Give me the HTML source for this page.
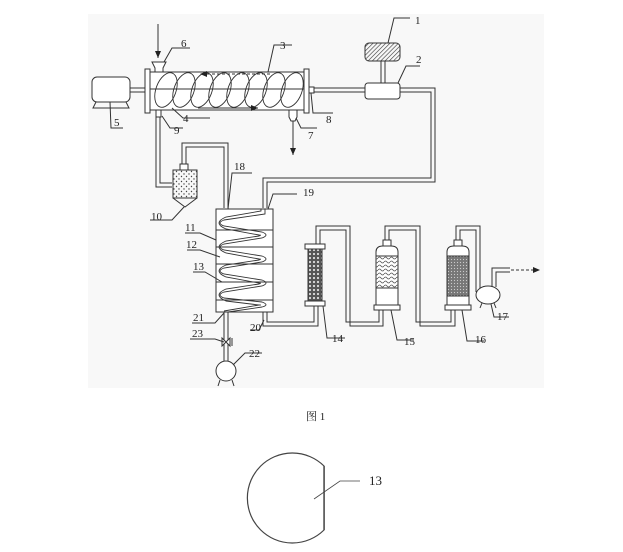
<!DOCTYPE html>
<html><head><meta charset="utf-8"><style>
html,body{margin:0;padding:0;background:#fff;}
svg{display:block;font-family:"Liberation Serif","Noto Serif CJK SC",serif;}
</style></head><body>
<svg width="623" height="552" viewBox="0 0 623 552" xmlns="http://www.w3.org/2000/svg">
<defs>
<pattern id="hatch" width="3" height="3" patternUnits="userSpaceOnUse" patternTransform="rotate(45)"><line x1="0" y1="0" x2="0" y2="3" stroke="#333" stroke-width="1.2"/></pattern>
<pattern id="dots" width="5" height="5" patternUnits="userSpaceOnUse"><circle cx="1.5" cy="1.5" r="0.7" fill="#444"/><circle cx="4" cy="4" r="0.7" fill="#444"/></pattern>
<pattern id="dark" width="4" height="4" patternUnits="userSpaceOnUse"><rect width="4" height="4" fill="#555"/><circle cx="2" cy="2" r="1.1" fill="#ddd"/></pattern>
<pattern id="wave" width="6" height="4" patternUnits="userSpaceOnUse"><path d="M0 2 Q1.5 0 3 2 T6 2" fill="none" stroke="#555" stroke-width="0.8"/></pattern>
<pattern id="dense" width="3" height="3" patternUnits="userSpaceOnUse"><rect width="3" height="3" fill="#777"/><circle cx="1.5" cy="1.5" r="0.6" fill="#ccc"/></pattern>
<marker id="ar" markerWidth="8" markerHeight="8" refX="7" refY="4" orient="auto"><path d="M0 1 L7 4 L0 7 Z" fill="#222"/></marker>
</defs>
<rect x="88" y="14" width="456" height="374" fill="#f8f8f8"/>
<g fill="none" stroke="#333" stroke-width="1">
<rect x="92" y="77" width="38" height="25" rx="5" fill="#fff"/>
<path d="M96 102 L93 108 L129 108 L126 102"/>
<line x1="130" y1="88" x2="145" y2="88"/><line x1="130" y1="92" x2="145" y2="92"/>
<rect x="150" y="72" width="154" height="38" fill="#fff"/>
<rect x="145" y="69" width="5" height="44" fill="#fff"/>
<rect x="304" y="69" width="5" height="44" fill="#fff"/>
<line x1="150" y1="89" x2="304" y2="89"/>
<g stroke-width="0.9">
<ellipse cx="166" cy="90" rx="10" ry="18" transform="rotate(20 166 90)"/>
<ellipse cx="184" cy="90" rx="10" ry="18" transform="rotate(20 184 90)"/>
<ellipse cx="202" cy="90" rx="10" ry="18" transform="rotate(20 202 90)"/>
<ellipse cx="220" cy="90" rx="10" ry="18" transform="rotate(20 220 90)"/>
<ellipse cx="238" cy="90" rx="10" ry="18" transform="rotate(20 238 90)"/>
<ellipse cx="256" cy="90" rx="10" ry="18" transform="rotate(20 256 90)"/>
<ellipse cx="274" cy="90" rx="10" ry="18" transform="rotate(20 274 90)"/>
<ellipse cx="292" cy="90" rx="10" ry="18" transform="rotate(20 292 90)"/>
</g>
<line x1="270" y1="74" x2="200" y2="74" stroke-dasharray="3,2" marker-end="url(#ar)"/>
<line x1="198" y1="108" x2="258" y2="108" marker-end="url(#ar)"/>
<path d="M152 62 L166 62 L163 68 L163 72 L155 72 L155 68 Z" fill="#fff"/>
<line x1="158" y1="24" x2="158" y2="58" marker-end="url(#ar)"/>
<path d="M289 110 L297 110 L297 117 L295 121 L291 121 L289 117 Z" fill="#fff"/>
<line x1="293" y1="121" x2="293" y2="155" marker-end="url(#ar)"/>
<rect x="309" y="87" width="5" height="6" fill="#fff"/>
<rect x="365" y="43" width="35" height="18" rx="4" fill="url(#hatch)"/>
<line x1="381" y1="61" x2="381" y2="83"/><line x1="385" y1="61" x2="385" y2="83"/>
<rect x="365" y="83" width="35" height="16" rx="3" fill="#fff"/>
<line x1="314" y1="88" x2="365" y2="88"/><line x1="314" y1="92" x2="365" y2="92"/>
<path d="M400 88 L435 88 L435 182 L267 182 L267 208"/>
<path d="M400 92 L431 92 L431 178 L263 178 L263 208"/>
<rect x="156" y="110" width="5" height="7" fill="#fff"/>
<path d="M156 117 L156 187 L172 187"/><path d="M160 117 L160 183 L172 183"/>
<rect x="180" y="164" width="8" height="6" fill="#fff"/>
<rect x="173" y="170" width="24" height="28" fill="url(#dots)"/>
<path d="M173 198 L185 207 L197 198"/>
<path d="M182 164 L182 143 L228 143 L228 208"/><path d="M186 164 L186 147 L224 147 L224 208"/>
<rect x="216" y="209" width="57" height="103" fill="#fff"/>
<line x1="216" y1="230" x2="273" y2="230"/><line x1="216" y1="247" x2="273" y2="247"/>
<line x1="216" y1="264" x2="273" y2="264"/><line x1="216" y1="282" x2="273" y2="282"/><line x1="216" y1="300" x2="273" y2="300"/>
<path d="M265 209 L265 214 L224 220 Q216 223 224 226 L262 232 Q270 235 262 238 L224 244 Q216 247 224 250 L262 256 Q270 259 262 262 L224 268 Q216 271 224 274 L262 280 Q270 283 262 286 L224 292 Q216 295 224 298 L262 302 Q270 305 262 307 L228 312" stroke-width="0.9"/>
<path d="M261 209 L261 211 L226 217 Q212 223 226 229 L259 235 Q262 235 259 236 L226 241 Q212 247 226 253 L259 259 Q262 259 259 260 L226 265 Q212 271 226 277 L259 283 Q262 283 259 284 L226 289 Q212 295 226 301 L259 305 Q262 305 259 305 L224 311" stroke-width="0.9"/>
<line x1="224" y1="312" x2="224" y2="362"/><line x1="228" y1="312" x2="228" y2="362"/>
<path d="M222 338 L230 346 L230 338 L222 346 Z" fill="#fff"/><line x1="232" y1="338" x2="232" y2="346"/>
<circle cx="226" cy="371" r="10" fill="#fff"/>
<line x1="220" y1="380" x2="218" y2="386"/><line x1="232" y1="380" x2="234" y2="386"/>
<path d="M263 312 L263 326 L318 326 L318 306"/><path d="M267 312 L267 322 L314 322 L314 306"/>
<rect x="305" y="244" width="20" height="5" fill="#fff"/>
<rect x="308" y="249" width="14" height="52" fill="url(#dark)"/>
<rect x="305" y="301" width="20" height="5" fill="#fff"/>
<path d="M316 244 L316 226 L350 226 L350 326 L383 326 L383 310"/>
<path d="M320 244 L320 230 L346 230 L346 322 L379 322 L379 310"/>
<rect x="383" y="240" width="8" height="6" fill="#fff"/>
<path d="M376 305 L376 252 Q376 246 383 246 L391 246 Q398 246 398 252 L398 305 Z" fill="#fff"/>
<rect x="376" y="256" width="22" height="32" fill="url(#wave)"/>
<rect x="374" y="305" width="26" height="5" fill="#fff"/>
<path d="M385 240 L385 226 L420 226 L420 326 L455 326 L455 310"/>
<path d="M389 240 L389 230 L416 230 L416 322 L451 322 L451 310"/>
<rect x="454" y="240" width="8" height="6" fill="#fff"/>
<path d="M447 305 L447 252 Q447 246 454 246 L462 246 Q469 246 469 252 L469 305 Z" fill="#fff"/>
<rect x="447" y="256" width="22" height="40" fill="url(#dense)"/>
<rect x="445" y="305" width="26" height="5" fill="#fff"/>
<path d="M456 240 L456 226 L480 226 L480 292"/><path d="M460 240 L460 230 L476 230 L476 292"/>
<ellipse cx="488" cy="295" rx="12" ry="9" fill="#fff"/>
<line x1="482" y1="303" x2="480" y2="308"/><line x1="494" y1="303" x2="496" y2="308"/>
<path d="M492 287 L492 268 L510 268"/><path d="M496 287 L496 272 L510 272"/>
<line x1="511" y1="270" x2="540" y2="270" stroke-dasharray="3,2" marker-end="url(#ar)"/>
<path d="M388 43 L394 18 L410 18"/>
<path d="M398 83 L406 66 L420 66"/>
<path d="M268 72 L274 45 L292 45"/>
<path d="M164 62 L172 48 L190 48"/>
<path d="M172 108 L183 118 L210 118"/>
<path d="M110 102 L111 128 L123 128"/>
<path d="M296 118 L301 128 L317 128"/>
<path d="M311 93 L313 113 L333 113"/>
<path d="M162 116 L170 128 L183 128"/>
<path d="M184 207 L172 220 L150 220"/>
<path d="M228 209 L232 173 L252 173"/>
<path d="M268 209 L273 194 L297 194"/>
<path d="M216 240 L200 233 L185 233"/>
<path d="M220 257 L200 250 L187 250"/>
<path d="M222 282 L205 272 L193 272"/>
<path d="M224 313 L215 323 L192 323"/>
<path d="M264 320 L259 330 L250 330"/>
<path d="M224 342 L215 339 L190 339"/>
<path d="M233 365 L245 353 L262 353"/>
<path d="M323 306 L327 338 L345 338"/>
<path d="M391 310 L397 340 L414 340"/>
<path d="M462 310 L467 341 L484 341"/>
<path d="M491 304 L494 317 L509 317"/>
</g>
<g font-size="11" fill="#222">
<text x="415" y="24">1</text><text x="416" y="63">2</text><text x="280" y="49">3</text>
<text x="183" y="122">4</text><text x="114" y="126">5</text><text x="181" y="47">6</text>
<text x="308" y="139">7</text><text x="326" y="123">8</text><text x="174" y="134">9</text>
<text x="151" y="220">10</text><text x="185" y="231">11</text><text x="186" y="248">12</text>
<text x="193" y="270">13</text><text x="332" y="342">14</text><text x="404" y="345">15</text>
<text x="475" y="343">16</text><text x="497" y="320">17</text><text x="234" y="170">18</text>
<text x="303" y="196">19</text><text x="250" y="331">20</text><text x="193" y="321">21</text>
<text x="249" y="357">22</text><text x="192" y="337">23</text>
</g>
<text x="306" y="420" font-size="11" fill="#222">图 1</text>
<path d="M324 466 A45 45 0 1 0 324 530 Z" fill="none" stroke="#444" stroke-width="1.2"/>
<rect x="323.4" y="466" width="1.4" height="64" fill="#444"/>
<path d="M314 499 L340 481 L360 481" fill="none" stroke="#444" stroke-width="0.8"/>
<text x="369" y="485" font-size="13" fill="#222">13</text>
</svg>
</body></html>
